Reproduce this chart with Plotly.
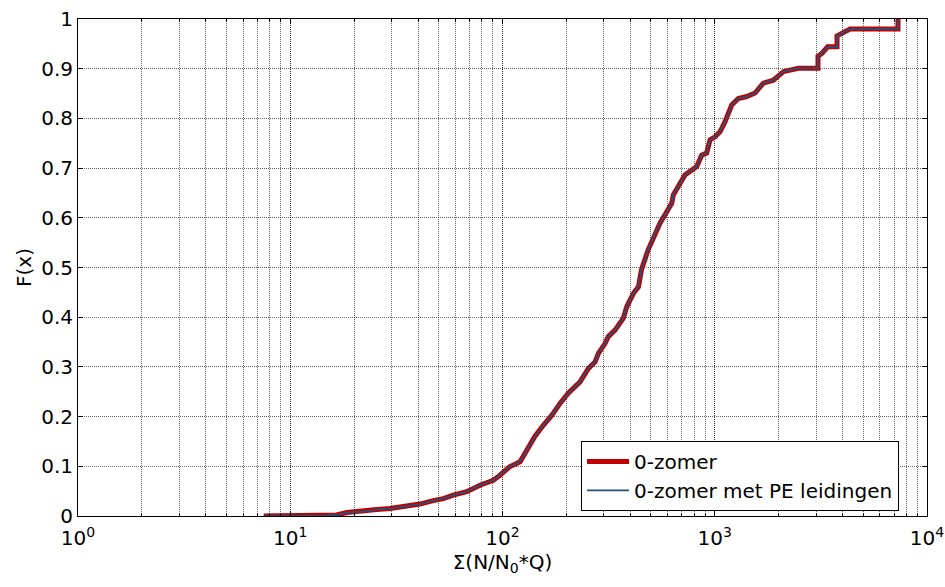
import plotly.graph_objects as go

x_vals = [7.5, 14, 16.5, 18.5, 22, 25.5, 29.5, 35.4, 40.8, 47.2, 52.6, 58.6, 67.8,
          78.3, 90.5, 97.3, 108, 121, 130, 142, 156, 171, 187, 204, 232, 254, 273,
          283, 304, 315, 339, 371, 385, 414, 437, 452, 485, 523, 552, 594, 627, 638,
          686, 724, 822, 868, 916, 950, 1003, 1059, 1117, 1158, 1202, 1291, 1414,
          1548, 1694, 1888, 2104, 2476, 3065, 3065, 3200, 3400, 3767, 3767, 4100,
          4340, 7300, 7300]
f_vals = [0.0, 0.0, 0.002, 0.007, 0.009, 0.013, 0.015, 0.020, 0.024, 0.031, 0.035,
          0.042, 0.049, 0.062, 0.072, 0.082, 0.099, 0.109, 0.133, 0.160, 0.183, 0.203,
          0.227, 0.247, 0.270, 0.297, 0.310, 0.327, 0.347, 0.361, 0.374, 0.398, 0.421,
          0.448, 0.461, 0.496, 0.535, 0.569, 0.589, 0.612, 0.629, 0.646, 0.669, 0.686,
          0.703, 0.726, 0.730, 0.757, 0.763, 0.773, 0.793, 0.807, 0.827, 0.840, 0.844,
          0.851, 0.871, 0.877, 0.894, 0.901, 0.901, 0.925, 0.931, 0.944, 0.944, 0.966,
          0.974, 0.980, 0.980, 1.0]

series_names = ["0-zomer", "0-zomer met PE leidingen"]
x_tickvals = [1, 10, 100, 1000, 10000]
x_ticktext = ["10<sup>0</sup>", "10<sup>1</sup>", "10<sup>2</sup>", "10<sup>3</sup>", "10<sup>4</sup>"]
y_tickvals = [0, 0.1, 0.2, 0.3, 0.4, 0.5, 0.6, 0.7, 0.8, 0.9, 1]
y_ticktext = ["0", "0.1", "0.2", "0.3", "0.4", "0.5", "0.6", "0.7", "0.8", "0.9", "1"]

FONT = "DejaVu Sans, Arial, sans-serif"
FS = 20
GRID = "rgba(0,0,0,0.6)"
GDASH = "1px,1px"

fig = go.Figure()
fig.add_trace(go.Scatter(x=x_vals, y=f_vals, mode="lines", name=series_names[0],
                         line=dict(color="#C00000", width=5)))
fig.add_trace(go.Scatter(x=x_vals, y=f_vals, mode="lines", name=series_names[1],
                         line=dict(color="#23527C", width=1.8)))

fig.update_layout(
    width=945, height=587,
    margin=dict(l=78, r=18, t=19, b=71),
    paper_bgcolor="white", plot_bgcolor="white",
    font=dict(family=FONT, size=FS, color="black"),
    showlegend=True,
    legend=dict(x=0.5925, y=0.151, xanchor="left", yanchor="top",
                bgcolor="white", bordercolor="black", borderwidth=1,
                font=dict(size=20), itemwidth=42, tracegroupgap=0),
)
fig.update_xaxes(
    type="log", range=[0, 4], automargin=False,
    tickvals=x_tickvals, ticktext=x_ticktext,
    ticks="inside", ticklen=5, tickcolor="black",
    showline=True, linecolor="black", linewidth=1, mirror="allticks",
    showgrid=True, gridcolor=GRID, griddash=GDASH, gridwidth=1,
    minor=dict(ticks="inside", ticklen=3, tickcolor="black", showgrid=True,
               gridcolor=GRID, griddash=GDASH, dtick="D1"),
    zeroline=False, ticklabelstandoff=4,
    title=dict(text="Σ(N/N<sub>0</sub>*Q)", font=dict(size=FS), standoff=5),
)
fig.update_yaxes(
    range=[0, 1], automargin=False,
    tickvals=y_tickvals, ticktext=y_ticktext,
    ticks="inside", ticklen=5, tickcolor="black",
    showline=True, linecolor="black", linewidth=1, mirror="allticks",
    showgrid=True, gridcolor=GRID, griddash=GDASH, gridwidth=1,
    zeroline=False,
    title=dict(text="F(x)", font=dict(size=FS), standoff=4),
)

fig.write_html("out.html")
